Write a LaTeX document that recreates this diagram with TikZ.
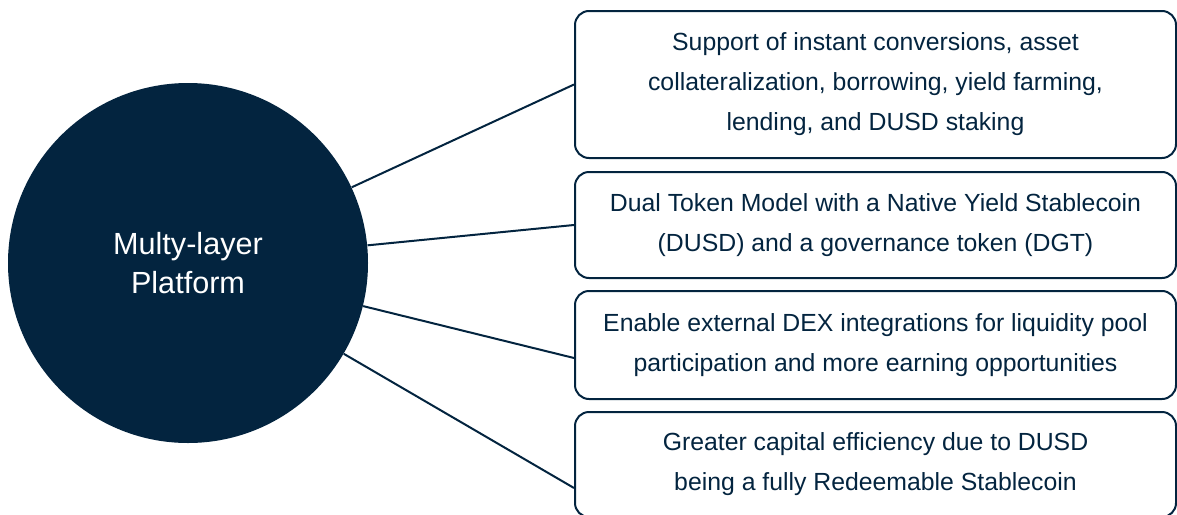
\documentclass[tikz,border=0pt]{standalone}
\usepackage{fontspec}
\setmainfont{Liberation Sans}
\usetikzlibrary{shapes}
\definecolor{navy}{HTML}{03243F}
\tikzstyle{plat}=[circle,fill=navy,text=white,minimum size=180pt,inner sep=0pt,align=center,font=\fontsize{15.3}{19.5}\selectfont]
\tikzstyle{caja}=[rectangle,draw=navy,line width=1pt,rounded corners=7pt,minimum width=300.5pt,text=navy,align=center,font=\fontsize{12.4}{20}\selectfont]
\tikzstyle{enlace}=[draw=navy,line width=1pt]

\begin{document}
\begin{tikzpicture}[x=0.5pt,y=-0.5pt]
\useasboundingbox (0,0) rectangle (1177,514);
\node[plat] (p)  at (188,263) {Multy-layer\\Platform};
\node[caja,minimum height=73.5pt] (b1) at (875.5,84.5) {Support of instant conversions, asset\\collateralization, borrowing, yield farming,\\lending, and DUSD staking};
\node[caja,minimum height=53pt] (b2) at (875.5,225) {Dual Token Model with a Native Yield Stablecoin\\(DUSD) and a governance token (DGT)};
\node[caja,minimum height=54pt] (b3) at (875.5,345) {Enable external DEX integrations for liquidity pool\\participation and more earning opportunities};
\node[caja,minimum height=52.5pt] (b4) at (875.5,464.5) {Greater capital efficiency due to DUSD\\being a fully Redeemable Stablecoin};
\draw[enlace] (p) -- (b1.west);
\draw[enlace] (p) -- (b2.west);
\draw[enlace] (p) -- ([yshift=-6.5pt]b3.west);
\draw[enlace] (p) -- ([yshift=-11.75pt]b4.west);
\end{tikzpicture}
\end{document}
